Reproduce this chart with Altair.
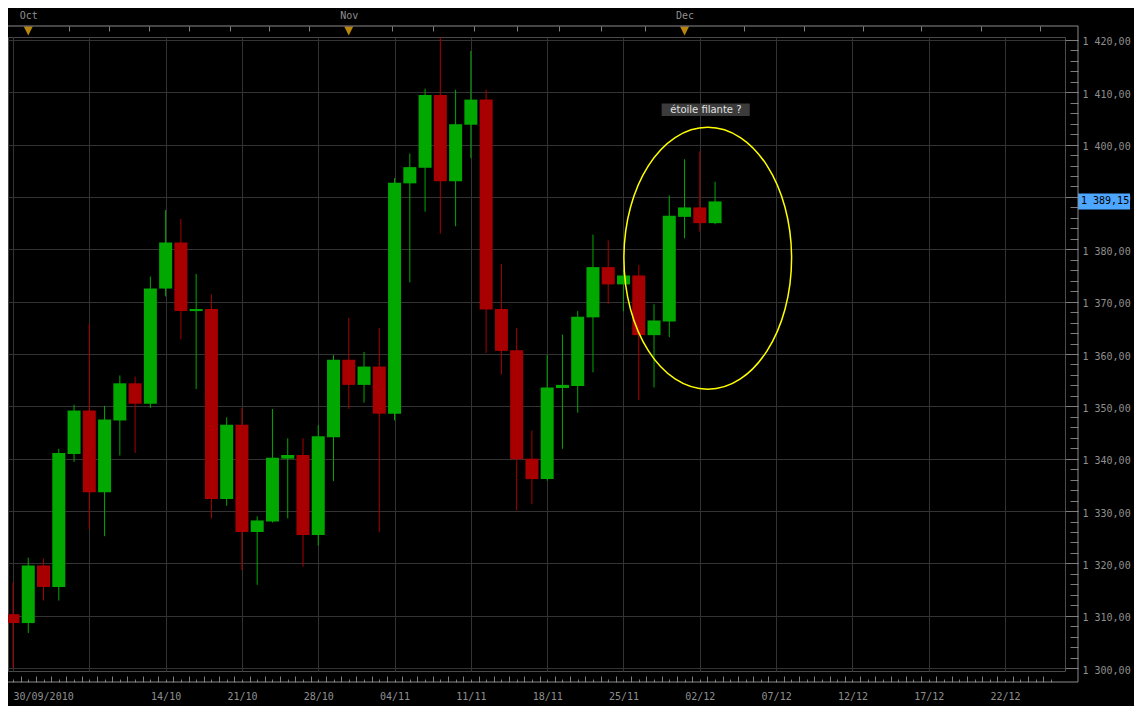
import altair as alt
import pandas as pd

# ---------------- data ----------------
dates = ["30/09", "01/10", "04/10", "05/10", "06/10", "07/10", "08/10", "11/10", "12/10", "13/10",
         "14/10", "15/10", "18/10", "19/10", "20/10", "21/10", "22/10", "25/10", "26/10", "27/10",
         "28/10", "29/10", "01/11", "02/11", "03/11", "04/11", "05/11", "08/11", "09/11", "10/11",
         "11/11", "12/11", "15/11", "16/11", "17/11", "18/11", "19/11", "22/11", "23/11", "24/11",
         "25/11", "26/11", "29/11", "30/11", "01/12", "02/12", "03/12"]
opens = [1310.3, 1308.6, 1319.6, 1315.5, 1340.9, 1349.2, 1333.6, 1347.3, 1354.4, 1350.5,
         1372.5, 1381.3, 1368.2, 1368.6, 1332.3, 1346.5, 1326.0, 1328.0, 1340.0, 1340.7,
         1325.4, 1344.1, 1358.9, 1354.1, 1357.6, 1348.6, 1392.6, 1395.6, 1409.5, 1393.0,
         1403.8, 1408.6, 1368.6, 1360.7, 1340.0, 1336.1, 1353.5, 1353.9, 1367.0, 1376.6,
         1373.3, 1375.0, 1363.6, 1366.2, 1386.2, 1388.0, 1385.0]
highs = [1316.4, 1321.1, 1320.9, 1341.9, 1350.3, 1365.8, 1350.1, 1355.9, 1355.7, 1374.8,
         1387.5, 1385.8, 1375.3, 1371.4, 1347.9, 1349.7, 1329.0, 1349.5, 1343.9, 1343.9,
         1346.4, 1359.8, 1366.9, 1360.4, 1365.0, 1393.6, 1398.3, 1410.7, 1420.5, 1410.5,
         1417.9, 1410.5, 1377.2, 1365.0, 1345.4, 1359.8, 1363.7, 1368.2, 1382.8, 1381.7,
         1376.1, 1377.0, 1369.5, 1390.3, 1397.2, 1398.7, 1392.9]
lows = [1300.0, 1306.7, 1312.9, 1312.9, 1339.4, 1326.5, 1325.2, 1340.6, 1341.1, 1349.7,
        1371.0, 1362.8, 1353.3, 1328.6, 1331.0, 1318.7, 1315.9, 1327.8, 1328.6, 1319.4,
        1323.4, 1335.7, 1349.5, 1350.7, 1326.0, 1347.3, 1373.7, 1387.2, 1383.0, 1384.4,
        1397.4, 1360.2, 1356.1, 1330.1, 1331.3, 1335.8, 1341.9, 1348.8, 1356.5, 1369.6,
        1368.2, 1351.2, 1353.6, 1363.2, 1382.1, 1383.4, 1384.8]
closes = [1308.6, 1319.6, 1315.5, 1341.1, 1349.2, 1333.6, 1347.5, 1354.4, 1350.5, 1372.5,
          1381.3, 1368.2, 1368.6, 1332.3, 1346.5, 1326.0, 1328.2, 1340.2, 1340.7, 1325.4,
          1344.3, 1358.9, 1354.1, 1357.6, 1348.6, 1392.7, 1395.7, 1409.5, 1393.0, 1403.9,
          1408.6, 1368.5, 1360.6, 1339.9, 1336.1, 1353.6, 1354.1, 1367.1, 1376.6, 1373.3,
          1375.0, 1363.6, 1366.4, 1386.4, 1388.0, 1385.0, 1389.15]

# bottom axis: bar index of each grid line and its label
x_label_values = [0, 5, 10, 15, 20, 25, 30, 35, 40, 45, 50, 55, 60, 65]
x_labels = ["30/09/2010", "", "14/10", "21/10", "28/10", "04/11", "11/11", "18/11",
            "25/11", "02/12", "07/12", "12/12", "17/12", "22/12"]
# top strip: month markers (bar index of first session of month) and small ticks
month_values = [1, 22, 44]
month_labels = ["Oct", "Nov", "Dec"]
top_tick_values = [3.7, 6.3, 8.9, 11.5, 14.2, 16.8, 19.4, 24.8, 27.5, 30.2, 33.0, 35.8,
                   38.5, 41.4, 47.9, 51.8, 55.7, 59.5, 63.4, 67.3]
y_grid_values = list(range(1300, 1421, 10))
y_minor_values = list(range(1300, 1421, 2))
bar_ticks = [i * 1.0 for i in range(0, 69)]
half_ticks = [i + 0.5 for i in range(0, 68)]

last_price = 1389.15
last_price_label = "1 389,15"
annotation_text = "étoile filante ?"
annotation = {"x": 45.4, "y": 1406.65, "x0": 42.5, "x1": 48.27, "y0": 1405.45, "y1": 1407.85}
ellipse_center = {"cx": 45.52, "cy": 1378.3}

# ---------------- chart ----------------
df = pd.DataFrame({"idx": list(range(len(opens))), "date": dates, "open": opens,
                   "high": highs, "low": lows, "close": closes})

W, H = 1057, 634
x_scale = alt.Scale(domain=[0, 68.6], nice=False, zero=False)
y_scale = alt.Scale(domain=[1299.44, 1420.56], nice=False, zero=False)

FONT = "DejaVu Sans Mono"
LABEL = "#8f8f8f"
GRID = "#333333"
TICK = "#7d7d7d"
UP = "#00a800"
DOWN = "#a80000"

color = alt.condition("datum.close >= datum.open", alt.value(UP), alt.value(DOWN))

x_label_expr = "[" + ",".join("'%s'" % s for s in x_labels) + "][datum.value / 5]"
month_expr = " : ".join("datum.value == %s ? '%s'" % (v, l)
                        for v, l in zip(month_values, month_labels)) + " : ''"

x_main_axis = alt.Axis(orient="bottom", offset=11, values=x_label_values, labelExpr=x_label_expr,
                       labelAlign={"condition": {"test": "datum.value == 0", "value": "left"},
                                   "value": "center"},
                       labelOverlap=False, grid=True, gridColor=GRID,
                       gridWidth=1, ticks=False, domain=False, labelColor=LABEL,
                       labelFont=FONT, labelFontSize=10, labelPadding=9, title=None)
y_main_axis = alt.Axis(orient="right", offset=13, values=y_grid_values,
                       labelExpr="'1 ' + format(datum.value - 1000, 'd') + ',00'",
                       grid=True, gridColor=GRID, gridWidth=1, ticks=False, domain=False,
                       labelColor=LABEL, labelFont=FONT, labelFontSize=10, labelPadding=4,
                       labelOffset=2, title=None)
x_bar_tick_axis = alt.Axis(orient="top", offset=-(H + 11), values=bar_ticks, tickSize=3,
                           tickColor=TICK, labels=False, domain=False, grid=False, title=None)
x_half_tick_axis = alt.Axis(orient="top", offset=-(H + 11), values=half_ticks, tickSize=6,
                            tickColor=TICK, labels=False, domain=False, grid=False, title=None)
x_top_tick_axis = alt.Axis(orient="bottom", offset=-(H + 11), values=top_tick_values, tickSize=5,
                           tickColor=TICK, labels=False, domain=False, grid=False, title=None)
x_month_axis = alt.Axis(orient="top", offset=11, values=month_values, labelExpr=month_expr,
                        ticks=False, domain=False, grid=False, labelColor=LABEL, labelFont=FONT,
                        labelFontSize=10, labelPadding=6, title=None)
y_minor_axis = alt.Axis(orient="left", offset=-(W + 13), values=y_minor_values, tickSize=8,
                        tickColor=TICK, labels=False, domain=False, grid=False, title=None)
y_major_axis = alt.Axis(orient="left", offset=-(W + 13), values=y_grid_values, tickSize=13,
                        tickColor=TICK, labels=False, domain=False, grid=False, title=None)

wicks = alt.Chart(df).mark_rule(strokeWidth=1, clip=True).encode(
    x=alt.X("idx:Q", scale=x_scale, axis=x_main_axis),
    y=alt.Y("low:Q", scale=y_scale, axis=y_main_axis),
    y2="high:Q",
    color=color,
)
bodies = alt.Chart(df).mark_bar(size=13, clip=True, strokeWidth=0).encode(
    x=alt.X("idx:Q", scale=x_scale, axis=x_bar_tick_axis),
    y=alt.Y("open:Q", scale=y_scale, axis=y_minor_axis),
    y2="close:Q",
    color=color,
)

ell_path = ("M 0.64 0 C 0.64 0.5523 0.3535 1 0 1 C -0.3535 1 -0.64 0.5523 -0.64 0 "
            "C -0.64 -0.5523 -0.3535 -1 0 -1 C 0.3535 -1 0.64 -0.5523 0.64 0 Z")
ellipse = alt.Chart(pd.DataFrame([ellipse_center])).mark_point(
    shape=ell_path, size=262 * 262, filled=False, stroke="#ffff00", strokeWidth=1.5, opacity=1
).encode(
    x=alt.X("cx:Q", scale=x_scale, axis=x_half_tick_axis),
    y=alt.Y("cy:Q", scale=y_scale, axis=y_major_axis),
)

ann_df = pd.DataFrame([dict(annotation, text=annotation_text)])
ann_box = alt.Chart(ann_df).mark_rect(color="#3b3b3b").encode(
    x=alt.X("x0:Q", scale=x_scale, axis=x_top_tick_axis), x2="x1:Q",
    y=alt.Y("y0:Q", scale=y_scale, axis=None), y2="y1:Q",
)
ann_text = alt.Chart(ann_df).mark_text(font="DejaVu Sans", fontSize=10, color="#e0e0e0",
                                       baseline="middle", align="center").encode(
    x=alt.X("x:Q", scale=x_scale, axis=None),
    y=alt.Y("y:Q", scale=y_scale, axis=None),
    text="text:N",
)

months_df = pd.DataFrame({"m": month_values, "label": month_labels})
tri = alt.Chart(months_df).mark_point(shape="M -1 -1 L 1 -1 L 0 1 Z", size=81, filled=True,
                                      color="#b8860b", opacity=1).encode(
    x=alt.X("m:Q", scale=x_scale, axis=x_month_axis),
    y=alt.value(-6),
)

price_df = pd.DataFrame({"price": [last_price], "label": [last_price_label]})
price_tag = alt.Chart(price_df).mark_rule(strokeWidth=16, color="#4da6ff", strokeCap="butt").encode(
    y=alt.Y("price:Q", scale=y_scale, axis=None),
    x=alt.value(W + 13), x2=alt.value(W + 65),
)
price_text = alt.Chart(price_df).mark_text(align="left", baseline="middle", font=FONT,
                                           fontSize=10, color="#000000").encode(
    y=alt.Y("price:Q", scale=y_scale, axis=None),
    x=alt.value(W + 16),
    text="label:N",
)

frame_color = "#8a8a8a"
top_line = alt.Chart(price_df).mark_rule(color=frame_color).encode(
    x=alt.value(0), x2=alt.value(W + 13), y=alt.value(-11))
right_line = alt.Chart(price_df).mark_rule(color=frame_color).encode(
    x=alt.value(W + 13), y=alt.value(-11), y2=alt.value(H + 11))
bottom_line = alt.Chart(price_df).mark_rule(color=frame_color).encode(
    x=alt.value(0), x2=alt.value(W + 13), y=alt.value(H + 11))

chart = alt.layer(
    wicks, bodies, ellipse, ann_box, tri, ann_text, price_tag, price_text,
    top_line, right_line, bottom_line,
).resolve_axis(
    x="independent", y="independent"
).properties(
    width=W, height=H,
    autosize=alt.AutoSizeParams(type="none"),
    padding={"left": 0, "top": 29, "right": 69, "bottom": 35},
    background="#000000",
).configure_view(
    stroke="#4a4a4a", strokeWidth=1
)

chart.save("out.html", embed_options={"renderer": "svg", "actions": False})
